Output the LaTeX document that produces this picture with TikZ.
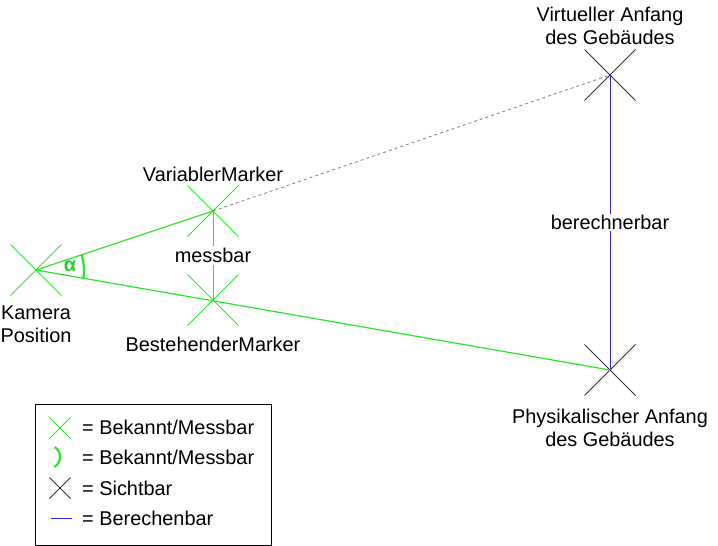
\documentclass[tikz,border=0pt]{standalone}
\usepackage{fontspec}
\setmainfont{Liberation Sans}
\usetikzlibrary{shapes.misc}
\definecolor{markergreen}{RGB}{40,230,40}
\definecolor{alphagreen}{RGB}{30,210,30}
\definecolor{calcblue}{RGB}{40,40,240}
\tikzstyle{known}=[cross out,draw=markergreen,line width=1pt,minimum size=50pt,inner sep=0pt]
\tikzstyle{seen}=[cross out,draw=black!80,line width=1pt,minimum size=50pt,inner sep=0pt]
\tikzstyle{txt}=[font=\fontsize{19.9}{23.5}\selectfont,align=center,inner sep=1pt]
\tikzstyle{legendtxt}=[txt,anchor=west,inner sep=0pt]

\begin{document}
\begin{tikzpicture}[x=1pt,y=-1pt]
    \useasboundingbox (0,0) rectangle (718,546);

    \node (K)  at (36, 270)  [known] {};
    \node (V)  at (213, 211) [known] {};
    \node (B)  at (213, 300) [known] {};
    \node (VA) at (610, 75)  [seen] {};
    \node (PA) at (610, 370) [seen] {};

    \node (Ktxt)  at (36, 324)  [txt] {Kamera\\Position};
    \node (Vtxt)  at (213, 174) [txt] {VariablerMarker};
    \node (Btxt)  at (213, 344) [txt] {BestehenderMarker};
    \node (VAtxt) at (610, 26)  [txt] {Virtueller Anfang\\des Gebäudes};
    \node (PAtxt) at (610, 428) [txt] {Physikalischer Anfang\\des Gebäudes};

    \draw (K.center) -- (V.center) [markergreen,line width=1.2pt];
    \draw (K.center) -- (PA.center) [markergreen,line width=1.2pt];
    \draw (V.center) -- (VA.center) [gray,line width=0.8pt,dash pattern=on 3pt off 3pt];
    \draw (V.center) -- node[txt,fill=white,inner sep=2pt] (mtxt) {messbar} (B.center) [markergreen,line width=1pt];
    \draw (VA.center) -- node[txt,fill=white,inner sep=1pt] (btxt) {berechnerbar} (PA.center) [calcblue,line width=1pt];

    % Winkel alpha
    \draw (K.center) ++(-9.9:48pt) arc[start angle=-9.9,end angle=18.4,radius=48pt] [markergreen,line width=2.2pt];
    \node (alpha) at (70, 266) [txt,text=alphagreen] {\textbf{α}};

    % Legende
    \draw (35, 404) rectangle (271, 545) [line width=0.8pt];
    \node (L1) at (60, 428) [known,minimum size=20pt] {};
    \draw (48, 457) ++(-56:12pt) arc[start angle=-56,end angle=56,radius=12pt] [markergreen,line width=2.2pt];
    \node (L3) at (60, 488) [seen,minimum size=20pt] {};
    \coordinate (L4a) at (51, 518);
    \coordinate (L4b) at (72, 518);
    \draw (L4a) -- (L4b) [calcblue,line width=0.8pt];

    \node (L1txt) at (82, 427) [legendtxt] {= Bekannt/Messbar};
    \node (L2txt) at (82, 457) [legendtxt] {= Bekannt/Messbar};
    \node (L3txt) at (82, 488) [legendtxt] {= Sichtbar};
    \node (L4txt) at (82, 518) [legendtxt] {= Berechenbar};
\end{tikzpicture}
\end{document}
